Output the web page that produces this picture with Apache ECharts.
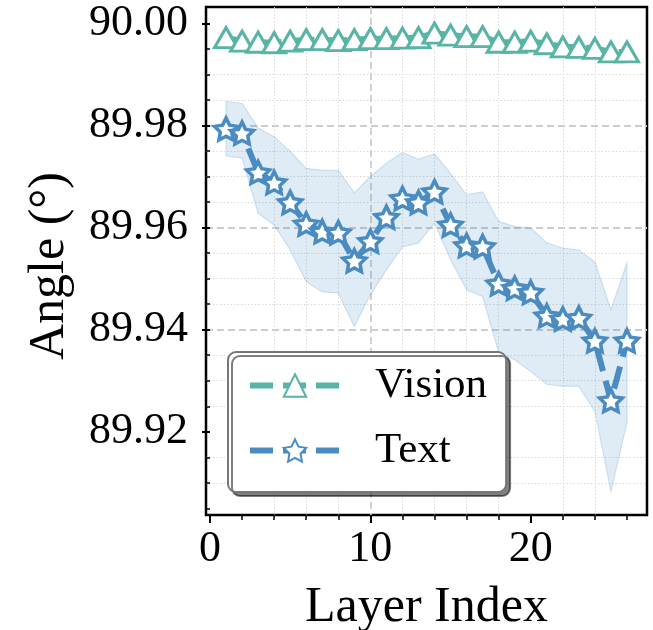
<!DOCTYPE html>
<html><head><meta charset="utf-8">
<script src="https://cdn.jsdelivr.net/npm/echarts@6/dist/echarts.min.js"></script>
<style>html,body{margin:0;padding:0;background:#fff}#c{width:653px;height:630px}</style>
</head><body><div id="c"></div>
<script>
const layers = [1,2,3,4,5,6,7,8,9,10,11,12,13,14,15,16,17,18,19,20,21,22,23,24,25,26];
const vision = [89.9972,89.9965,89.9963,89.9962,89.9965,89.9968,89.9968,89.9966,89.9968,89.9970,89.9970,89.9971,89.9972,89.9981,89.9977,89.9974,89.9974,89.9963,89.9963,89.9965,89.9960,89.9954,89.9953,89.9951,89.9944,89.9944];
const text = [89.9793,89.9785,89.9708,89.9688,89.9649,89.9607,89.9592,89.9590,89.9535,89.9573,89.9620,89.9657,89.9649,89.9670,89.9605,89.9565,89.9563,89.9490,89.9481,89.9473,89.9427,89.9421,89.9423,89.9378,89.9261,89.9378];
const textUpper = [89.9847,89.9843,89.9795,89.9778,89.9749,89.9716,89.9712,89.9712,89.9668,89.9700,89.9726,89.9747,89.9734,89.9744,89.9706,89.9664,89.9670,89.9612,89.9602,89.9599,89.9570,89.9560,89.9556,89.9533,89.9439,89.9531];
const textLower = [89.9740,89.9736,89.9628,89.9605,89.9556,89.9494,89.9474,89.9472,89.9406,89.9468,89.9517,89.9562,89.9570,89.9609,89.9537,89.9478,89.9465,89.9355,89.9341,89.9318,89.9293,89.9289,89.9289,89.9240,89.9083,89.9218];
const xMajorTicks = [0,10,20];
const xMinorTicks = [2,4,6,8,12,14,16,18,22,24,26];
const yMajorTicks = [89.92,89.94,89.96,89.98,90.00];
const yMinorTicks = [89.905,89.91,89.915,89.925,89.93,89.935,89.945,89.95,89.955,89.965,89.97,89.975,89.985,89.99,89.995];
const xRange = [-0.25, 27.25];
const yRange = [89.9037, 90.0032];

const TEAL = '#58b4a5', BLUE = '#4a8cc2';
const FONT = 'Liberation Serif';
const DASH = [23,10];

function starPath(){
  const pts=[]; const R=1, r=0.5;
  for(let i=0;i<10;i++){
    const a=-Math.PI/2 + i*Math.PI/5;
    const rad = i%2===0?R:r;
    pts.push((Math.cos(a)*rad).toFixed(4)+' '+(Math.sin(a)*rad).toFixed(4));
  }
  return 'path://M'+pts.join(' L')+' Z';
}
const STAR = starPath();

const chart = echarts.init(document.getElementById('c'), null, {renderer:'canvas'});

const majorSplit = {show:true, showMinLine:false, showMaxLine:false, lineStyle:{color:'#cccccc', width:1.8, type:[7,4]}};
const minorSplit = {show:true, showMinLine:false, showMaxLine:false, lineStyle:{color:'#d9d9d9', width:1, type:[1.5,2]}};

chart.setOption({
  animation:false,
  backgroundColor:'#fff',
  grid:{left:206, right:6, top:7, bottom:115, show:true, borderColor:'#000', borderWidth:2.5, backgroundColor:'transparent', containLabel:false, outerBoundsMode:'none'},
  xAxis:[
    {type:'value', min:xRange[0], max:xRange[1], position:'bottom',
     axisLine:{show:false},
     axisTick:{show:true, customValues:xMajorTicks, length:8, lineStyle:{color:'#000', width:2}},
     axisLabel:{show:true, customValues:xMajorTicks, margin:12, fontFamily:FONT, fontSize:44, color:'#000'},
     splitLine:majorSplit,
     name:'Layer Index', nameLocation:'middle', nameGap:68, nameTextStyle:{fontFamily:FONT, fontSize:50, color:'#000'}},
    {type:'value', min:xRange[0], max:xRange[1], position:'bottom',
     axisLine:{show:false},
     axisTick:{show:true, customValues:xMinorTicks, length:5, lineStyle:{color:'#000', width:1.5}},
     axisLabel:{show:false},
     splitLine:minorSplit}
  ],
  yAxis:[
    {type:'value', min:yRange[0], max:yRange[1], position:'left',
     axisLine:{show:false},
     axisTick:{show:true, customValues:yMajorTicks, length:8, lineStyle:{color:'#000', width:2}},
     axisLabel:{show:true, customValues:yMajorTicks, margin:18, fontFamily:FONT, fontSize:44, color:'#000', formatter:v=>v.toFixed(2)},
     splitLine:majorSplit,
     name:'Angle (°)', nameLocation:'middle', nameGap:131, nameTextStyle:{fontFamily:FONT, fontSize:50, color:'#000', padding:[0,10,0,0]}},
    {type:'value', min:yRange[0], max:yRange[1], position:'left',
     axisLine:{show:false},
     axisTick:{show:true, customValues:yMinorTicks, length:4, lineStyle:{color:'#000', width:1.5}},
     axisLabel:{show:false},
     splitLine:minorSplit}
  ],
  legend:{
    data:['Vision','Text'], orient:'vertical', left:228, top:352,
    padding:[12,19,20,19], itemGap:22, itemWidth:90, itemHeight:28,
    backgroundColor:'#fff', borderColor:'#777', borderWidth:2, borderRadius:8,
    shadowColor:'rgba(0,0,0,0.5)', shadowOffsetX:4, shadowOffsetY:4, shadowBlur:0,
    lineStyle:{width:6, type:DASH},
    textStyle:{fontFamily:FONT, fontSize:43, color:'#000', padding:[0,0,0,30]}
  },
  series:[
    {name:'band', type:'custom', silent:true, z:1, clip:true,
     data:[[layers[0], text[0]]],
     renderItem:(params, api)=>{
       const pts=[];
       layers.forEach((x,i)=>pts.push(api.coord([x,textUpper[i]])));
       for(let i=layers.length-1;i>=0;i--) pts.push(api.coord([layers[i],textLower[i]]));
       return {type:'polygon', shape:{points:pts}, style:{fill:'rgba(74,140,194,0.17)', stroke:'rgba(74,140,194,0.22)', lineWidth:1.2}};
     }},
    {name:'Vision', type:'line', data:layers.map((x,i)=>[x,vision[i]]),
     symbol:'triangle', symbolSize:[23,20], showAllSymbol:true,
     lineStyle:{color:TEAL, width:6, type:DASH},
     itemStyle:{color:'#fff', borderColor:TEAL, borderWidth:3}, z:3},
    {name:'Text', type:'line', data:layers.map((x,i)=>[x,text[i]]),
     symbol:STAR, symbolSize:[23,22], showAllSymbol:true,
     lineStyle:{color:BLUE, width:6, type:DASH},
     itemStyle:{color:'#fff', borderColor:BLUE, borderWidth:3.5}, z:3}
  ]
});
</script></body></html>
